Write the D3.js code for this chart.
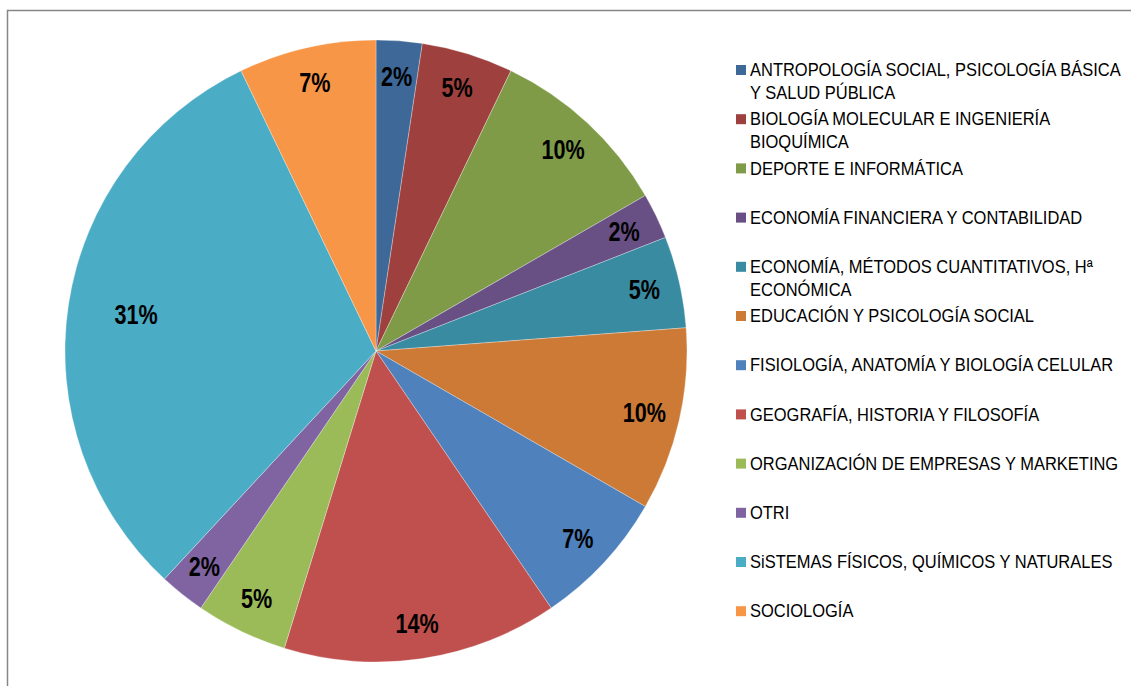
<!DOCTYPE html>
<html>
<head>
<meta charset="utf-8">
<script src="https://cdn.jsdelivr.net/npm/d3@7"></script>
<style>
  body { margin: 0; background: #fff; }
  svg { display: block; }
</style>
</head>
<body>
<div id="chart"></div>
<script>
// categories (legend order) and counts
const categories = [
  "ANTROPOLOGÍA SOCIAL, PSICOLOGÍA BÁSICA|Y SALUD PÚBLICA",
  "BIOLOGÍA MOLECULAR E INGENIERÍA|BIOQUÍMICA",
  "DEPORTE E INFORMÁTICA",
  "ECONOMÍA FINANCIERA Y CONTABILIDAD",
  "ECONOMÍA, MÉTODOS CUANTITATIVOS, Hª|ECONÓMICA",
  "EDUCACIÓN Y PSICOLOGÍA SOCIAL",
  "FISIOLOGÍA, ANATOMÍA Y BIOLOGÍA CELULAR",
  "GEOGRAFÍA, HISTORIA Y FILOSOFÍA",
  "ORGANIZACIÓN DE EMPRESAS Y MARKETING",
  "OTRI",
  "SiSTEMAS FÍSICOS, QUÍMICOS Y NATURALES",
  "SOCIOLOGÍA"
];
const counts = [1, 2, 4, 1, 2, 4, 3, 6, 2, 1, 13, 3];
const colors = [
  "#3d6898", "#9e403d", "#7f9b48", "#684f84", "#388ba1", "#cd7a37",
  "#4f81bd", "#c0504d", "#9bbb59", "#8064a2", "#4bacc6", "#f79646"
];

const width = 1131, height = 686;
const cx = 376, cy = 351, radius = 311;
const fontFam = "'Liberation Sans Narrow', 'Arial Narrow', 'Liberation Sans', Arial, sans-serif";

const svg = d3.select("#chart").append("svg")
  .attr("width", width)
  .attr("height", height);

// chart frame
svg.append("rect")
  .attr("x", 7.5).attr("y", 10.5)
  .attr("width", width + 10).attr("height", height + 10)
  .attr("fill", "none")
  .attr("stroke", "#868686")
  .attr("stroke-width", 1.5);

const total = d3.sum(counts);
const data = categories.map((c, i) => ({name: c, value: counts[i], color: colors[i]}));

const pie = d3.pie().value(d => d.value).sort(null);
const arcs = pie(data);

const arc = d3.arc().innerRadius(0).outerRadius(radius);

const g = svg.append("g")
  .attr("transform", `translate(${cx}, ${cy})`);

g.selectAll(".slice")
  .data(arcs)
  .join("path")
  .attr("class", "slice")
  .attr("d", arc)
  .attr("fill", d => d.data.color)
  .attr("stroke", "rgba(255,255,255,0.5)")
  .attr("stroke-width", 0.6);

// labels: the big slice sits further in, like Excel best fit
g.selectAll(".pct")
  .data(arcs)
  .join("text")
  .attr("class", "pct")
  .attr("transform", d => {
    const a = (d.startAngle + d.endAngle) / 2;
    const r = d.data.value / total > 0.25 ? radius * 0.78 : radius * 0.885;
    return `translate(${Math.sin(a) * r}, ${-Math.cos(a) * r}) scale(0.8, 1)`;
  })
  .attr("text-anchor", "middle")
  .attr("dominant-baseline", "central")
  .attr("font-family", fontFam)
  .attr("font-weight", "bold")
  .attr("font-size", "27px")
  .attr("fill", "#000")
  .text(d => Math.round(d.data.value / total * 100) + "%");

// legend
const legend = svg.append("g")
  .attr("transform", "translate(736, 70)");

const items = legend.selectAll(".item")
  .data(data)
  .join("g")
  .attr("class", "item")
  .attr("transform", (d, i) => `translate(0, ${i * 49.2})`);

items.append("rect")
  .attr("x", 0).attr("y", -5)
  .attr("width", 10).attr("height", 10)
  .attr("fill", d => d.color);

items.append("text")
  .attr("transform", "translate(14, 0) scale(0.915, 1)")
  .attr("font-family", fontFam)
  .attr("font-size", "18px")
  .attr("fill", "#000")
  .each(function(d) {
    const lines = d.name.split("|");
    d3.select(this).selectAll("tspan")
      .data(lines)
      .join("tspan")
      .attr("x", 0)
      .attr("y", (l, j) => j * 22.5)
      .attr("dominant-baseline", "central")
      .text(l => l);
  });
</script>
</body>
</html>
